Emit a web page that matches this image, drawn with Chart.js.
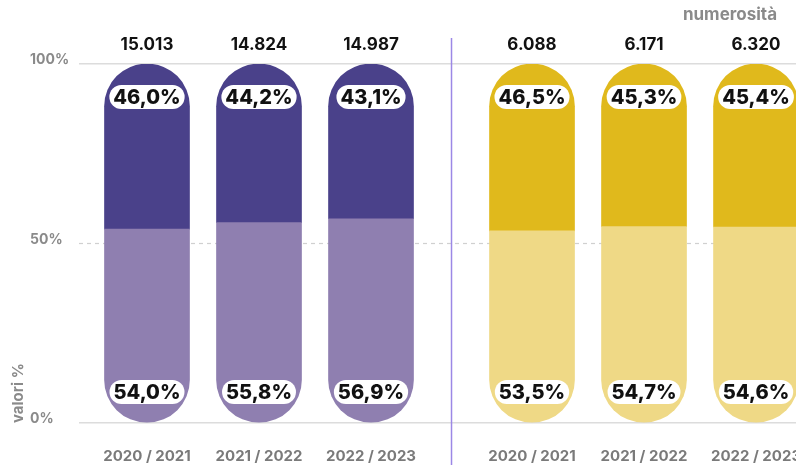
<!DOCTYPE html>
<html>
<head>
<meta charset="utf-8">
<script src="https://cdn.jsdelivr.net/npm/chart.js@4/dist/chart.umd.min.js"></script>
<style>
  html, body { margin: 0; padding: 0; background: #fff; overflow: hidden; }
  #wrap { width: 830px; height: 465px; }
</style>
</head>
<body>
<div id="wrap"><canvas id="chart" width="830" height="465"></canvas></div>
<script>
const categories = ['2020 / 2021', '2021 / 2022', '2022 / 2023', '2020 / 2021', '2021 / 2022', '2022 / 2023'];
const totals = [15013, 14824, 14987, 6088, 6171, 6320];
const lowerShare = [54.0, 55.8, 56.9, 53.5, 54.7, 54.6];
const upperShare = [46.0, 44.2, 43.1, 46.5, 45.3, 45.4];
const yTicks = [0, 50, 100];

const groupGap = 0.4375;
const xPos = categories.map((c, i) => i + (i >= 3 ? groupGap : 0));
const dividerX = (xPos[2] + xPos[3]) / 2;

const darkColors = ['#4a418a', '#4a418a', '#4a418a', '#e0b91c', '#e0b91c', '#e0b91c'];
const lightColors = ['#8f7fb0', '#8f7fb0', '#8f7fb0', '#efd986', '#efd986', '#efd986'];

const FONT = 'Inter, "DejaVu Sans", sans-serif';
const fmtPct = v => v.toFixed(1).replace('.', ',') + '%';
const fmtNum = n => String(n).replace(/\B(?=(\d{3})+(?!\d))/g, '.');

function pill(ctx, x, y, w, h) {
    const r = h / 2;
    ctx.beginPath();
    ctx.moveTo(x - w / 2 + r, y - r);
    ctx.lineTo(x + w / 2 - r, y - r);
    ctx.arc(x + w / 2 - r, y, r, -Math.PI / 2, Math.PI / 2);
    ctx.lineTo(x - w / 2 + r, y + r);
    ctx.arc(x - w / 2 + r, y, r, Math.PI / 2, Math.PI * 1.5);
    ctx.closePath();
    ctx.fill();
}

const decorations = {
    id: 'decorations',
    beforeDatasetsDraw(chart) {
        const ctx = chart.ctx;
        const area = chart.chartArea;
        const x = chart.scales.x.getPixelForValue(dividerX);
        const mid = chart.scales.y.getPixelForValue(50);
        ctx.save();
        // dashed 50% reference line
        ctx.strokeStyle = '#d0d0d0';
        ctx.lineWidth = 1.2;
        ctx.setLineDash([4, 4]);
        ctx.beginPath();
        ctx.moveTo(area.left, mid);
        ctx.lineTo(area.right, mid);
        ctx.stroke();
        ctx.setLineDash([]);
        // divider between the two groups
        ctx.strokeStyle = '#9c88e6';
        ctx.lineWidth = 1.5;
        ctx.beginPath();
        ctx.moveTo(x, 38);
        ctx.lineTo(x, 465);
        ctx.stroke();
        ctx.restore();
    },
    afterDatasetsDraw(chart) {
        const ctx = chart.ctx;
        const y = chart.scales.y;
        const top = y.getPixelForValue(100);
        const bottom = y.getPixelForValue(0);
        ctx.save();
        ctx.textAlign = 'center';
        ctx.textBaseline = 'middle';

        [0, 1].forEach(d => {
            const values = d === 0 ? lowerShare : upperShare;
            chart.getDatasetMeta(d).data.forEach((bar, i) => {
                const cy = d === 0 ? bottom - 31 : top + 33;
                const label = fmtPct(values[i]);
                ctx.font = '800 20px ' + FONT;
                const w = ctx.measureText(label).width + 8;
                ctx.fillStyle = '#fff';
                pill(ctx, bar.x, cy, w, 24);
                ctx.fillStyle = '#111';
                ctx.fillText(label, bar.x, cy + 1);
            });
        });

        ctx.font = 'bold 17px ' + FONT;
        ctx.fillStyle = '#111';
        chart.getDatasetMeta(1).data.forEach((bar, i) => {
            ctx.fillText(fmtNum(totals[i]), bar.x, 45);
        });

        ctx.font = 'bold 17px ' + FONT;
        ctx.fillStyle = '#8a8a8a';
        ctx.textAlign = 'right';
        ctx.fillText('numerosità', 777, 15);

        ctx.font = 'bold 15px ' + FONT;
        ctx.translate(18, bottom);
        ctx.rotate(-Math.PI / 2);
        ctx.textAlign = 'left';
        ctx.fillText('valori %', 0, 0);
        ctx.restore();
    }
};

new Chart(document.getElementById('chart'), {
    type: 'bar',
    data: {
        datasets: [
            {
                data: xPos.map((x, i) => ({ x: x, y: lowerShare[i] })),
                backgroundColor: lightColors,
                borderSkipped: false,
                borderRadius: { topLeft: 0, topRight: 0, bottomLeft: 43, bottomRight: 43 },
                barThickness: 85
            },
            {
                data: xPos.map((x, i) => ({ x: x, y: upperShare[i] })),
                backgroundColor: darkColors,
                borderSkipped: false,
                borderRadius: { topLeft: 43, topRight: 43, bottomLeft: 0, bottomRight: 0 },
                barThickness: 85
            }
        ]
    },
    options: {
        responsive: false,
        animation: false,
        layout: { padding: { top: 64, left: 30, right: 0, bottom: 0 } },
        plugins: { legend: { display: false }, tooltip: { enabled: false } },
        scales: {
            x: {
                type: 'linear',
                stacked: true,
                offset: false,
                min: -0.6071,
                max: 6.098,
                grid: { display: false },
                border: { display: false },
                afterBuildTicks: scale => { scale.ticks = xPos.map(v => ({ value: v })); },
                afterFit: scale => { scale.height = 42; },
                ticks: {
                    autoSkip: false,
                    maxRotation: 0,
                    padding: 16,
                    color: '#7a7a7a',
                    font: { family: FONT, size: 15, weight: 'bold' },
                    callback: (v, i) => categories[i]
                }
            },
            y: {
                stacked: true,
                min: 0,
                max: 100,
                afterBuildTicks: scale => { scale.ticks = yTicks.map(v => ({ value: v })); },
                afterFit: scale => { scale.width = 49; },
                border: { display: false },
                grid: {
                    drawTicks: false,
                    lineWidth: 1.5,
                    color: ctx => (ctx.tick && ctx.tick.value === 50 ? 'rgba(0,0,0,0)' : '#dcdcdc')
                },
                ticks: {
                    crossAlign: 'far',
                    labelOffset: -4,
                    color: '#8a8a8a',
                    font: { family: FONT, size: 14, weight: 'bold' },
                    callback: v => v + '%'
                }
            }
        }
    },
    plugins: [decorations]
});
</script>
</body>
</html>
